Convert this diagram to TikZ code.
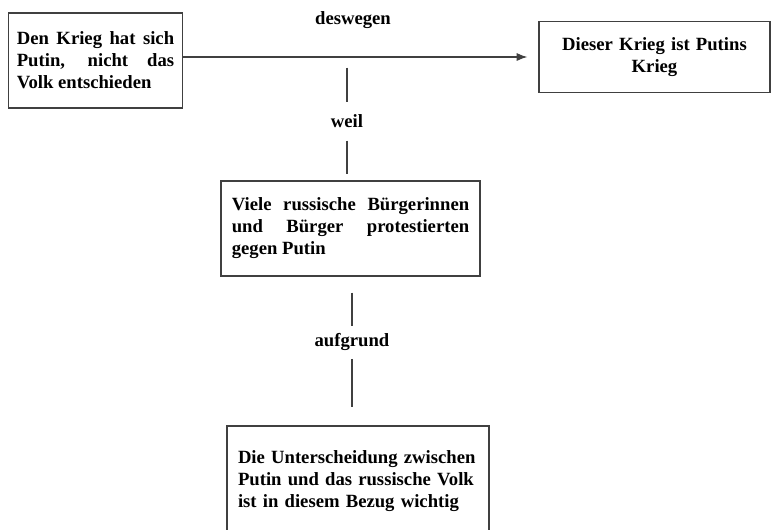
\documentclass[tikz,border=0pt]{standalone}
\usepackage{fontspec}
\setmainfont{Liberation Serif}
\usetikzlibrary{arrows.meta}
\def \txt{\fontsize{14}{16.5}\selectfont\bfseries}
\tikzset{
  box/.style={draw=black!75, line width=0.9pt, inner sep=0pt, font=\txt},
  word/.style={inner sep=0pt, font=\txt},
  link/.style={draw=black!75, line width=0.9pt}
}

\begin{document}
\begin{tikzpicture}[x=0.75pt, y=-0.75pt]
\useasboundingbox (0,0) rectangle (773,529);
\clip (0,0) rectangle (773,529); % box at the bottom runs off the page
% boxes
\node[box, text width=118pt, minimum width=130.5pt, minimum height=71.25pt, align=justify] (volk) at (95.5,60.5)
	{Den Krieg hat sich\linebreak Putin, nicht das\linebreak Volk entschieden};
\node[box, text width=150pt, minimum width=173.25pt, minimum height=53.25pt, align=center] (putin) at (654.5,57)
	{Dieser Krieg ist Putins\\ Krieg};
\node[box, text width=178pt, minimum width=194.25pt, minimum height=71.25pt, align=justify] (buerger) at (350.5,228.5)
	{Viele russische Bürgerinnen\linebreak und Bürger protestierten\linebreak gegen Putin};
\node[box, text width=180pt, minimum width=196.5pt, minimum height=82.5pt, align=left] (unterschied) at (358,481)
	{Die Unterscheidung zwischen\\ Putin und das russische Volk\\ ist in diesem Bezug wichtig};
% words on the links
\node[word] (deswegen) at (353,20.5) {deswegen};
\node[word] (weil) at (347,121) {weil};
\node[word] (aufgrund) at (352,342) {aufgrund};
\coordinate (mitte) at (347,57);
% links
\draw[link, -{Latex[length=8pt,width=6pt]}, shorten >=8.25pt] (volk.east |- putin.west) -- (putin.west);
\draw[link, shorten <=7.9pt, shorten >=9.5pt] (mitte) -- (weil);
\draw[link, shorten <=9.5pt, shorten >=4.5pt] (weil) -- (weil |- buerger.north);
\draw[link, shorten <=12pt, shorten >=5.5pt] (aufgrund |- buerger.south) -- (aufgrund);
\draw[link, shorten <=6pt, shorten >=13.5pt] (aufgrund) -- (aufgrund |- unterschied.north);
\end{tikzpicture}
\end{document}
